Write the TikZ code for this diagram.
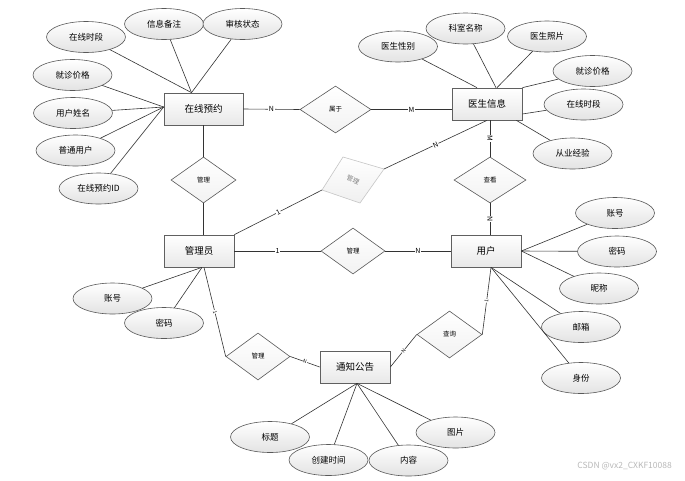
\documentclass[tikz,border=0pt]{standalone}
\usepackage{fontspec}
\setmainfont{Noto Sans CJK SC}
\usetikzlibrary{shapes.geometric,shadows,calc}
\begin{document}
\begin{tikzpicture}[x=1pt,y=-1pt,
 ent/.style={draw=gray!75!black, line width=0.7pt, rectangle, minimum width=70pt, minimum height=32pt, inner sep=0pt, top color=white, bottom color=gray!18, font=\fontsize{9.5}{10}\selectfont, drop shadow={shadow xshift=1pt, shadow yshift=-1pt, opacity=0.25}},
 att/.style={draw=gray!70!black, line width=0.6pt, ellipse, minimum width=79pt, minimum height=31pt, inner sep=0pt, top color=white, bottom color=gray!22, font=\fontsize{8.5}{9}\selectfont},
 rel/.style={draw=gray!70!black, line width=0.6pt, diamond, minimum width=65pt, minimum height=46pt, inner sep=0pt, top color=white, bottom color=gray!10, font=\fontsize{6.5}{7}\selectfont},
 ln/.style={draw=gray!40!black, line width=0.6pt},
 lab/.style={fill=white, inner sep=0.6pt, font=\fontsize{7}{7}\selectfont},
 tinylab/.style={fill=white, inner sep=0.4pt, font=\fontsize{5}{5}\selectfont},
]
\useasboundingbox[fill=white] (0,0) rectangle (685,480);

% entities
\node[ent, minimum width=79pt] (zx) at (203.5,109) {在线预约};
\node[ent] (yi) at (487,104) {医生信息};
\node[ent] (gly) at (199,251) {管理员};
\node[ent] (yh) at (486,251) {用户};
\node[ent] (tz) at (355,367) {通知公告};

% relationships
\node[rel, minimum width=71pt, minimum height=47pt] (sy) at (335.5,109.5) {属于};
\node[rel] (gl1) at (203.5,180) {管理};
\node[rel, minimum width=72pt] (ck) at (490,180) {查看};
\node[rel, minimum width=64pt] (gl2) at (353,251) {管理};
\node[rel, minimum width=64pt, minimum height=47pt] (gl3) at (258,356.5) {管理};
\node[rel, minimum height=47pt] (cx) at (449.5,334.5) {查询};

% grey sheared relationship
\coordinate (gL) at (322,190);
\coordinate (gT) at (343,157);
\coordinate (gR) at (384,169);
\coordinate (gB) at (360,203);
\path[draw=gray!45, line width=0.6pt, top color=white, bottom color=gray!12] (gL) -- (gT) -- (gR) -- (gB) -- cycle;
\node[rotate=-22, text=gray, inner sep=0pt, font=\fontsize{6.5}{7}\selectfont] (gm) at (353,180) {管理};

% attributes of 在线预约
\node[att] (a1) at (86,37) {在线时段};
\node[att] (a2) at (164,24) {信息备注};
\node[att] (a3) at (242.5,24) {审核状态};
\node[att] (a4) at (72.5,75) {就诊价格};
\node[att] (a5) at (73,113) {用户姓名};
\node[att] (a6) at (75.5,150.5) {普通用户};
\node[att] (a7) at (98.5,188.5) {在线预约ID};

% attributes of 医生信息
\node[att] (b1) at (398,46.5) {医生性别};
\node[att] (b2) at (465.5,28.5) {科室名称};
\node[att] (b3) at (547,36.5) {医生照片};
\node[att] (b4) at (592.5,71) {就诊价格};
\node[att] (b5) at (583.5,104.5) {在线时段};
\node[att] (b6) at (572.5,153.5) {从业经验};

% attributes of 用户
\node[att] (c1) at (615,213) {账号};
\node[att] (c2) at (617,251.5) {密码};
\node[att] (c3) at (599,288.5) {昵称};
\node[att] (c4) at (581,327) {邮箱};
\node[att] (c5) at (581,378) {身份};

% attributes of 管理员
\node[att] (d1) at (112.5,298.5) {账号};
\node[att] (d2) at (164,323) {密码};

% attributes of 通知公告
\node[att] (e1) at (270,437) {标题};
\node[att] (e2) at (328.5,460) {创建时间};
\node[att] (e3) at (408.5,460.5) {内容};
\node[att] (e4) at (455.5,432.5) {图片};

% relationship connectors
\draw[ln] (zx.east) -- node[lab]{N} (sy.west);
\draw[ln] (sy.east) -- node[lab]{M} (sy.east -| yi.west);
\draw[ln] (zx.south) -- (gl1.north);
\draw[ln] (gl1.south) -- (gl1.south |- gly.north);
\draw[ln] (gly.north east) -- node[lab, sloped]{1} (gL);
\draw[ln] (gR) -- node[lab, sloped]{N} (yi.south);
\draw[ln] (ck.north |- yi.south) -- node[lab, sloped]{M} (ck.north);
\draw[ln] (ck.south) -- node[lab, sloped]{N} (ck.south |- yh.north);
\draw[ln] (gly.east) -- node[lab]{1} (gl2.west);
\draw[ln] (gl2.east) -- node[lab]{N} (yh.west);
\draw[ln] ([xshift=5pt]gly.south) -- node[tinylab, sloped]{1} (gl3.west);
\draw[ln] (gl3.east) -- node[tinylab, sloped]{N} (tz.west);
\draw[ln] (tz.east) -- node[tinylab, sloped]{N} (cx.west);
\draw[ln] (cx.east) -- node[tinylab, sloped]{1} ([xshift=5pt]yh.south);

% attribute connectors
\foreach \n in {a1,a2,a3} \draw[ln] (\n) -- ([xshift=-12pt]zx.north);
\foreach \n in {a4,a5,a6,a7} \draw[ln] (\n) -- ([yshift=2pt]zx.west);
\draw[ln] (b1) -- ([xshift=-10pt]yi.north);
\draw[ln] (b2) -- ([xshift=9pt]yi.north);
\draw[ln] (b3) -- ([xshift=10pt]yi.north);
\draw[ln] (b4) -- (yi.north east);
\draw[ln] (b5) -- ([yshift=-10pt]yi.east);
\draw[ln] (b6) -- ([xshift=-6pt]yi.south east);
\foreach \n in {c1,c2,c3} \draw[ln] (\n) -- (yh.east);
\foreach \n in {c4,c5} \draw[ln] (\n) -- ([xshift=5pt]yh.south);
\foreach \n in {d1,d2} \draw[ln] (\n) -- ([xshift=3pt]gly.south);
\foreach \n in {e1,e2,e3,e4} \draw[ln] (\n) -- ([xshift=2pt]tz.south);

% watermark
\node[text=gray!55, font=\fontsize{8.5}{9}\selectfont, anchor=east, inner sep=0pt] (wm) at (672,466) {CSDN @vx2\_CXKF10088};
\end{tikzpicture}
\end{document}
